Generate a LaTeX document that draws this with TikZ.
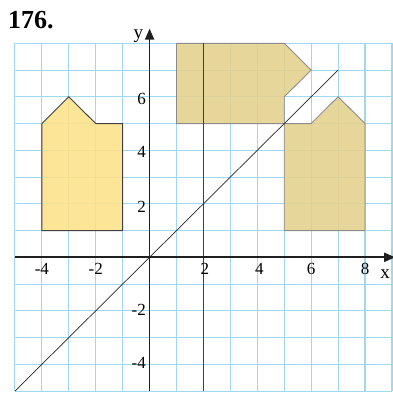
\documentclass[tikz,border=0pt]{standalone}
\usepackage{fontspec}
\setmainfont{Liberation Serif}
\usetikzlibrary{arrows.meta}
\definecolor{gridblue}{RGB}{160,216,238}
\definecolor{lightyel}{RGB}{253,225,138}
\definecolor{tan}{RGB}{228,208,140}
\tikzset{
  gridline/.style={draw=gridblue, line width=1.1pt},
  axisline/.style={draw=black!88, line width=1.8pt, -{Triangle[length=11pt,width=9pt]}},
  ticklab/.style={font=\fontsize{17}{17}\selectfont, inner sep=0pt},
  axlab/.style={font=\fontsize{19}{19}\selectfont, inner sep=0pt},
  shapeA/.style={fill=lightyel, fill opacity=0.88, draw=black!75, line width=0.9pt},
  shapeB/.style={fill=tan, fill opacity=0.88, draw=black!45, line width=0.9pt},
}
\begin{document}
\begin{tikzpicture}[x=26.93pt, y=26.75pt]
\useasboundingbox (-5.555,-5.11) rectangle (9.038,9.619);
% grid
\draw[gridline, step=1] (-5,-5) grid (9,8);
% shapes
\draw[shapeA] (-4,1) -- (-4,5) -- (-3,6) -- (-2,5) -- (-1,5) -- (-1,1) -- cycle;
\draw[shapeB] (5,1) -- (5,5) -- (6,5) -- (7,6) -- (8,5) -- (8,1) -- cycle;
\draw[shapeB] (1,5) -- (5,5) -- (5,6) -- (6,7) -- (5,8) -- (1,8) -- cycle;
% lines
\coordinate (d1) at (-5,-5);
\coordinate (d2) at (7,7);
\draw[black!85, line width=0.7pt] (d1) -- (d2);
\coordinate (v1) at (2,-5);
\coordinate (v2) at (2,8);
\draw[black!75, line width=1.3pt] (v1) -- (v2);
% axes
\coordinate (xa) at (-5,0);
\coordinate (xb) at (9.12,0);
\coordinate (ya) at (0,-5);
\coordinate (yb) at (0,8.55);
\draw[axisline] (xa) -- (xb);
\draw[axisline] (ya) -- (yb);
% labels
\node[axlab] (xl) at (8.75,-0.62) {x};
\node[axlab] (yl) at (-0.42,8.25) {y};
\node[ticklab] (xm4) at (-4,-0.45) {-4};
\node[ticklab] (xm2) at (-2,-0.45) {-2};
\node[ticklab] (x2) at (2.05,-0.45) {2};
\node[ticklab] (x4) at (4.08,-0.45) {4};
\node[ticklab] (x6) at (6,-0.45) {6};
\node[ticklab] (x8) at (8,-0.45) {8};
\node[ticklab, anchor=east] (y6) at (-0.13,5.93) {6};
\node[ticklab, anchor=east] (y4) at (-0.13,3.93) {4};
\node[ticklab, anchor=east] (y2) at (-0.13,1.9) {2};
\node[ticklab, anchor=east] (ym2) at (-0.13,-1.97) {-2};
\node[ticklab, anchor=east] (ym4) at (-0.13,-3.95) {-4};
\node[font=\fontsize{26}{26}\selectfont\bfseries, inner sep=0pt, anchor=base west] (title) at (-5.26,8.55) {176.};
\end{tikzpicture}
\end{document}
